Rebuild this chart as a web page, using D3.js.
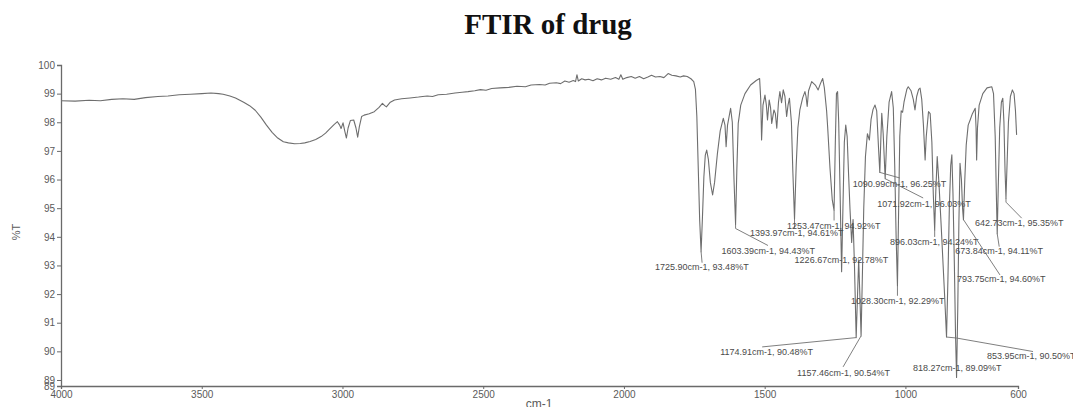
<!DOCTYPE html>
<html>
<head>
<meta charset="utf-8">
<script src="https://cdn.jsdelivr.net/npm/d3@7"></script>
<style>
  html, body { margin: 0; padding: 0; background: #fff; }
  svg { display: block; }
</style>
</head>
<body>
<svg id="chart" width="1073" height="407"></svg>
<script>
// FTIR spectrum: [wavenumber (cm-1), transmittance (%T)]
const spectrum = [
  [4000,98.75],[3950,98.74],[3900,98.77],[3860,98.75],[3820,98.80],[3780,98.82],[3740,98.80],
  [3700,98.86],[3656,98.90],[3620,98.92],[3580,98.96],[3540,98.98],[3500,99.00],[3467,99.02],
  [3440,99.00],[3424,98.98],[3400,98.92],[3380,98.85],[3351,98.70],[3330,98.58],[3310,98.42],
  [3290,98.18],[3270,97.90],[3250,97.65],[3230,97.45],[3210,97.32],[3192,97.28],[3170,97.25],
  [3150,97.26],[3134,97.28],[3115,97.33],[3095,97.40],[3076,97.50],[3060,97.62],[3047,97.75],
  [3030,97.92],[3018,98.02],[3010,97.90],[3005,97.78],[2998,97.98],[2992,97.70],[2986,97.45],
  [2980,97.80],[2972,98.06],[2960,98.08],[2952,97.80],[2946,97.48],[2940,97.85],[2932,98.20],
  [2923,98.25],[2905,98.30],[2887,98.37],[2870,98.52],[2858,98.66],[2850,98.58],[2844,98.54],
  [2830,98.70],[2815,98.78],[2790,98.82],[2760,98.85],[2730,98.88],[2699,98.92],[2680,98.90],
  [2660,98.96],[2630,98.98],[2600,99.02],[2575,99.05],[2554,99.07],[2530,99.10],[2510,99.14],
  [2490,99.12],[2470,99.18],[2440,99.20],[2409,99.22],[2380,99.26],[2350,99.24],[2330,99.30],
  [2300,99.32],[2280,99.30],[2264,99.36],[2240,99.38],[2225,99.35],[2210,99.44],[2195,99.40],
  [2180,99.46],[2172,99.42],[2167,99.66],[2162,99.44],[2150,99.52],[2138,99.48],[2125,99.50],
  [2110,99.45],[2095,99.52],[2080,99.48],[2065,99.54],[2047,99.50],[2030,99.56],[2018,99.50],
  [2011,99.66],[2004,99.50],[1990,99.56],[1974,99.60],[1960,99.54],[1945,99.60],[1930,99.52],
  [1915,99.58],[1902,99.64],[1888,99.58],[1872,99.60],[1858,99.56],[1843,99.70],[1830,99.64],
  [1815,99.62],[1800,99.58],[1788,99.62],[1775,99.60],[1762,99.52],[1752,99.42],[1746,99.15],
  [1741,98.20],[1736,96.40],[1731,94.60],[1725.9,93.48],[1721,94.70],[1716,96.10],[1711,96.85],
  [1706,97.03],[1700,96.70],[1693,95.90],[1685,95.46],[1678,95.90],[1668,96.90],[1658,97.70],
  [1647,98.14],[1641,97.90],[1637,97.15],[1632,97.90],[1621,98.49],[1615,98.00],[1609,96.00],
  [1603.39,94.43],[1599,96.30],[1594,97.96],[1585,98.60],[1570,99.00],[1550,99.30],[1530,99.46],
  [1518,99.53],[1514,98.80],[1511,97.38],[1506,98.60],[1499,98.95],[1494,98.60],[1490,98.08],
  [1484,98.78],[1479,98.50],[1475,97.96],[1467,98.43],[1462,98.30],[1457,97.79],[1451,98.70],
  [1446,99.07],[1440,98.68],[1434,99.13],[1428,98.90],[1422,98.20],[1417,98.60],[1412,98.84],
  [1405,98.00],[1400,96.30],[1393.97,94.61],[1388,96.50],[1382,97.80],[1375,98.43],[1365,98.85],
  [1357,99.07],[1353,98.90],[1349,98.55],[1344,99.10],[1333,99.42],[1320,99.30],[1310,99.13],
  [1302,99.35],[1294,99.53],[1288,99.20],[1280,98.40],[1276,97.79],[1268,96.40],[1260,95.30],
  [1253.47,94.92],[1249,97.30],[1245,99.00],[1241,99.07],[1237,98.00],[1232,95.50],
  [1226.67,92.78],[1222,95.00],[1217,97.30],[1212,97.90],[1207,97.50],[1202,96.20],[1197,95.00],
  [1191,93.80],[1186,94.60],[1181,93.00],[1174.91,90.48],[1170,92.00],[1166,93.20],[1162,92.00],
  [1157.46,90.54],[1153,92.60],[1148,95.00],[1142,96.80],[1135,97.60],[1128,97.38],[1122,98.10],
  [1115,98.45],[1108,98.60],[1102,98.40],[1096,97.20],[1090.99,96.25],[1087,97.50],[1084,98.31],
  [1079,97.60],[1071.92,96.03],[1066,97.50],[1058,98.70],[1049,99.07],[1043,98.50],[1038,96.50],
  [1033,94.00],[1028.3,92.29],[1024,95.00],[1020,97.50],[1015,98.40],[1010,98.35],[1005,98.70],
  [995,99.15],[990,99.24],[980,99.10],[972,98.80],[966,98.43],[960,98.90],[953,99.15],[948,99.19],
  [942,98.80],[936,97.90],[930,96.68],[926,97.50],[918,98.37],[912,98.30],[906,97.30],[901,95.50],
  [896.03,94.24],[892,95.60],[887,96.80],[881,95.90],[873,94.40],[866,93.00],[860,91.80],
  [853.95,90.50],[849,92.50],[844,95.00],[839,96.50],[835,96.86],[831,95.50],[826,93.00],
  [822,90.60],[818.27,89.09],[814,91.50],[810,94.50],[806,96.57],[801,96.00],[797,95.00],
  [793.75,94.60],[789,96.00],[784,97.20],[777,97.90],[770,98.08],[762,98.30],[752,98.49],
  [749,97.80],[747,96.68],[744,97.80],[738,98.60],[725,99.00],[710,99.20],[693,99.24],[687,99.00],
  [681,97.50],[677,95.50],[673.84,94.11],[670,95.80],[665,97.80],[659,98.70],[654,98.84],
  [650,98.00],[646,96.30],[642.73,95.35],[639,96.50],[634,98.00],[627,98.90],[620,99.13],
  [614,99.00],[609,98.40],[605,97.56]
];

// Labelled absorption bands
const peakWavenumber = [1725.90, 1603.39, 1393.97, 1253.47, 1226.67, 1174.91, 1157.46, 1090.99,
                        1071.92, 1028.30, 896.03, 853.95, 818.27, 793.75, 673.84, 642.73];
const peakTransmittance = [93.48, 94.43, 94.61, 94.92, 92.78, 90.48, 90.54, 96.25,
                           96.03, 92.29, 94.24, 90.50, 89.09, 94.60, 94.11, 95.35];

// Axis ticks
const xTickValues = [4000, 3500, 3000, 2500, 2000, 1500, 1000, 600];
const yTickValues = [89, 90, 91, 92, 93, 94, 95, 96, 97, 98, 99, 100];
const yFloor = 88.79;

// Callout placement (pixel offsets from the band minimum): label left/centre, leader polyline
const calloutLayout = [
  { dx: -46,  dy: 15,   leader: [[1, 11]] },
  { dx: -14,  dy: 26.4, leader: [[0, 4], [32.4, 21]] },
  { dx: -44.5,dy: 14,   leader: [[0, 9]] },
  { dx: -47,  dy: 15,   leader: [[0, 10]] },
  { dx: -47,  dy: -12,  leader: [] },
  { dx: -136, dy: 14.6, leader: [[-94, 9.3]] },
  { dx: -64,  dy: 36.7, leader: [[-18, 31]] },
  { dx: -27,  dy: 11.6, leader: [[20, 5.6]] },
  { dx: -8,   dy: 25.3, leader: [[38, 19.3]] },
  { dx: -46.5,dy: 15,   leader: [[0, 10]] },
  { dx: -44.7,dy: 11.7, leader: [[0, 7]] },
  { dx: 40.5, dy: 18.8, leader: [[10, 1], [86.5, 14.5]] },
  { dx: -43.6,dy: -9.3, leader: [] },
  { dx: -6.5, dy: 59.6, leader: [[36.5, 55.3]] },
  { dx: -42,  dy: 17.3, leader: [[2, 13]] },
  { dx: -31,  dy: 25,   leader: [[0, 4], [15.7, 20]] }
];

const svg = d3.select("#chart");
const plot = { left: 61, right: 1018, top: 65, bottom: 386 };

const x = d3.scaleLinear().domain([4000, 600]).range([plot.left, plot.right]);
const y = d3.scaleLinear().domain([yFloor, 100]).range([plot.bottom, plot.top]);

const axisColor = "#6a6a6a";
const textColor = "#5a5a5a";

// Title
svg.append("text")
  .attr("x", 548).attr("y", 34)
  .attr("text-anchor", "middle")
  .style("font-family", "'Liberation Serif', 'Times New Roman', serif")
  .style("font-weight", "bold")
  .style("font-size", "29px")
  .attr("fill", "#111")
  .text("FTIR of drug");

// Y axis
const yAxis = svg.append("g")
  .attr("transform", `translate(${plot.left},0)`)
  .call(d3.axisLeft(y)
    .tickValues([yFloor, ...yTickValues])
    .tickFormat(d3.format(".0f"))
    .tickSizeOuter(0)
    .tickSize(4)
    .tickPadding(2));

// X axis
const xAxis = svg.append("g")
  .attr("transform", `translate(0,${plot.bottom})`)
  .call(d3.axisBottom(x)
    .tickValues(xTickValues)
    .tickFormat(d3.format("d"))
    .tickSizeOuter(0)
    .tickSize(3)
    .tickPadding(2));

[yAxis, xAxis].forEach(g => {
  g.select(".domain").attr("stroke", axisColor).attr("stroke-width", 1.3);
  g.selectAll(".tick line").attr("stroke", axisColor);
  g.selectAll(".tick text")
    .attr("fill", textColor)
    .style("font-family", "'Liberation Sans', Arial, sans-serif")
    .style("font-size", "10px");
});

// Axis titles
svg.append("text")
  .attr("transform", "translate(20,232) rotate(-90)")
  .attr("text-anchor", "middle")
  .attr("fill", textColor)
  .style("font-family", "'Liberation Sans', Arial, sans-serif")
  .style("font-size", "11px")
  .text("%T");

svg.append("text")
  .attr("x", 539).attr("y", 408)
  .attr("text-anchor", "middle")
  .attr("fill", textColor)
  .style("font-family", "'Liberation Sans', Arial, sans-serif")
  .style("font-size", "12px")
  .text("cm-1");

// Spectrum trace
const line = d3.line()
  .x(d => x(d[0]))
  .y(d => y(d[1]));

svg.append("path")
  .datum(spectrum)
  .attr("d", line)
  .attr("fill", "none")
  .attr("stroke", "#6e6e6e")
  .attr("stroke-width", 1.1)
  .attr("stroke-linejoin", "round");

// Band callouts
const peaks = peakWavenumber.map((wn, i) => ({ wn, t: peakTransmittance[i], layout: calloutLayout[i] }));

const callouts = svg.append("g");
peaks.forEach(p => {
  const px = x(p.wn), py = y(p.t);
  const pts = [[px, py], ...p.layout.leader.map(([a, b]) => [px + a, py + b])];
  if (pts.length > 1) {
    callouts.append("path")
      .attr("d", d3.line()(pts))
      .attr("fill", "none")
      .attr("stroke", "#707070")
      .attr("stroke-width", 0.9);
  }
  callouts.append("text")
    .attr("x", px + p.layout.dx)
    .attr("y", py + p.layout.dy)
    .attr("dy", "0.35em")
    .attr("fill", "#4a4a4a")
    .style("font-family", "'Liberation Sans', Arial, sans-serif")
    .style("font-size", "9px")
    .text(`${p.wn.toFixed(2)}cm-1, ${p.t.toFixed(2)}%T`);
});
</script>
</body>
</html>
